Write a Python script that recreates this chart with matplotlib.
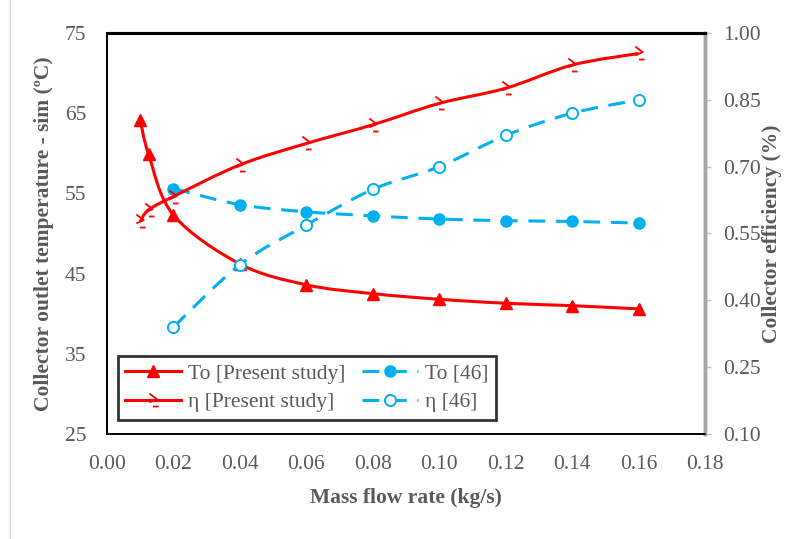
import numpy as np
import matplotlib
matplotlib.use("Agg")
import matplotlib.pyplot as plt
from matplotlib.path import Path
from matplotlib.patches import PathPatch
from matplotlib.lines import Line2D

plt.rcParams['font.family'] = ['Liberation Serif', 'DejaVu Serif']

# ---- data ----
to_present_x = [0.010, 0.0125, 0.02, 0.04, 0.06, 0.08, 0.10, 0.12, 0.14, 0.16]
to_present_y = [64.2, 59.9, 52.3, 46.2, 43.6, 42.5, 41.8, 41.3, 41.0, 40.6]

eta_present_x = [0.010, 0.0125, 0.02, 0.04, 0.06, 0.08, 0.10, 0.12, 0.14, 0.16]
eta_present_y = [0.577, 0.603, 0.633, 0.704, 0.752, 0.794, 0.842, 0.876, 0.928, 0.954]

to_ref_x = [0.02, 0.04, 0.06, 0.08, 0.10, 0.12, 0.14, 0.16]
to_ref_y = [55.6, 53.6, 52.7, 52.2, 51.8, 51.6, 51.5, 51.3]

eta_ref_x = [0.02, 0.04, 0.06, 0.08, 0.10, 0.12, 0.14, 0.16]
eta_ref_y = [0.34, 0.48, 0.569, 0.649, 0.70, 0.77, 0.82, 0.85]

x_ticks = [0.00, 0.02, 0.04, 0.06, 0.08, 0.10, 0.12, 0.14, 0.16, 0.18]
left_ticks = [25, 35, 45, 55, 65, 75]
right_ticks = [0.10, 0.25, 0.40, 0.55, 0.70, 0.85, 1.00]

RED = '#FF0000'
BLUE = '#00B0F0'
GREY_TXT = '#595959'
FS = 15.5
DASH = (0, (5.5, 3.5))

# excel-ish chevron marker for eta [Present study]
eta_marker = Path([(-0.45, 0.75), (0.35, 0.15), (-0.45, -0.2), (-0.05, -0.65), (0.55, -0.65)],
                  [Path.MOVETO, Path.LINETO, Path.LINETO, Path.MOVETO, Path.LINETO])


def smooth_path(xs, ys):
    # Catmull-Rom style bezier through the points (like excel "smoothed line")
    pts = np.column_stack([xs, ys]).astype(float)
    n = len(pts)
    verts = [pts[0]]
    codes = [Path.MOVETO]
    for i in range(n - 1):
        p0 = pts[i - 1] if i > 0 else pts[i]
        p1 = pts[i]
        p2 = pts[i + 1]
        p3 = pts[i + 2] if i + 2 < n else pts[i + 1]
        c1 = p1 + (p2 - p0) / 6.0
        c2 = p2 - (p3 - p1) / 6.0
        verts += [c1, c2, p2]
        codes += [Path.CURVE4] * 3
    return Path(verts, codes)


fig = plt.figure(figsize=(7.95, 5.39), dpi=100)
ax = fig.add_axes([0.1346, 0.1948, 0.7522, 0.744])
ax2 = ax.twinx()

ax.set_xlim(0, 0.18)
ax.set_ylim(25, 75)
ax2.set_ylim(0.10, 1.00)

# smooth lines
ax.add_patch(PathPatch(smooth_path(to_present_x, to_present_y), fill=False, edgecolor=RED, lw=2.2, zorder=3))
ax.add_patch(PathPatch(smooth_path(to_ref_x, to_ref_y), fill=False, edgecolor=BLUE, lw=2.2,
                       linestyle=DASH, zorder=3))
ax2.add_patch(PathPatch(smooth_path(eta_present_x, eta_present_y), fill=False, edgecolor=RED, lw=2.2, zorder=3))
ax2.add_patch(PathPatch(smooth_path(eta_ref_x, eta_ref_y), fill=False, edgecolor=BLUE, lw=2.2,
                        linestyle=DASH, zorder=3))

# markers
ax.plot(to_present_x, to_present_y, linestyle='none', marker='^', ms=8, color=RED, zorder=4)
ax.plot(to_ref_x, to_ref_y, linestyle='none', marker='o', ms=8, color=BLUE, zorder=4)
ax2.plot(eta_present_x, eta_present_y, linestyle='none', marker=eta_marker, ms=10,
         markerfacecolor='none', markeredgecolor=RED, mew=1.3, zorder=4)
ax2.plot(eta_ref_x, eta_ref_y, linestyle='none', marker='o', ms=8, markerfacecolor='white',
         markeredgecolor=BLUE, mew=1.4, zorder=4)

ax.set_xticks(x_ticks)
ax.set_xticklabels([f'{v:.2f}' for v in x_ticks])
ax.set_yticks(left_ticks)
ax2.set_yticks(right_ticks)
ax2.set_yticklabels([f'{v:.2f}' for v in right_ticks])

ax.tick_params(axis='x', length=0, pad=15, labelsize=FS, labelcolor=GREY_TXT)
ax.tick_params(axis='y', length=0, pad=15, labelsize=FS, labelcolor=GREY_TXT)
ax2.tick_params(axis='y', length=4, width=1, color='#BFBFBF', pad=9, labelsize=FS, labelcolor=GREY_TXT)

for a in (ax, ax2):
    a.spines['top'].set_color('black')
    a.spines['top'].set_linewidth(2.2)
    a.spines['left'].set_color('black')
    a.spines['left'].set_linewidth(1.2)
    a.spines['bottom'].set_color('black')
    a.spines['bottom'].set_linewidth(1.2)
    a.spines['right'].set_color('#A6A6A6')
    a.spines['right'].set_linewidth(2.5)

ax.set_xlabel('Mass flow rate (kg/s)', fontsize=FS, fontweight='bold', color=GREY_TXT, labelpad=10)
ax.set_ylabel('Collector outlet temperature - sim (ºC)', fontsize=FS, fontweight='bold',
              color=GREY_TXT, labelpad=8)
ax2.set_ylabel('Collector efficiency (%)', fontsize=FS, fontweight='bold', color=GREY_TXT, labelpad=1)

handles = [
    Line2D([], [], color=RED, lw=2.2, marker='^', ms=8),
    Line2D([], [], color=RED, lw=2.2, marker=eta_marker, ms=10, markerfacecolor='none', mew=1.3),
    Line2D([], [], color=BLUE, lw=2.2, linestyle=DASH, marker='o', ms=8),
    Line2D([], [], color=BLUE, lw=2.2, linestyle=DASH, marker='o', ms=8,
           markerfacecolor='white', mew=1.4),
]
labels = ['To [Present study]', 'η [Present study]', 'To [46]', 'η [46]']
leg = ax2.legend(handles, labels, ncol=2, loc='lower left', bbox_to_anchor=(0.018, 0.035),
                 fontsize=FS, frameon=True, fancybox=False, edgecolor='black',
                 handlelength=2.6, handletextpad=0.3, columnspacing=0.8, labelspacing=0.4,
                 borderpad=0.35, borderaxespad=0)
leg.get_frame().set_linewidth(2)
for t in leg.get_texts():
    t.set_color(GREY_TXT)

# faint outer border line at the left of the picture
fig.add_artist(Line2D([0.0126, 0.0126], [0.0, 1.0], color='#D9D9D9', lw=1, transform=fig.transFigure))

fig.savefig('out.png', dpi=100)
